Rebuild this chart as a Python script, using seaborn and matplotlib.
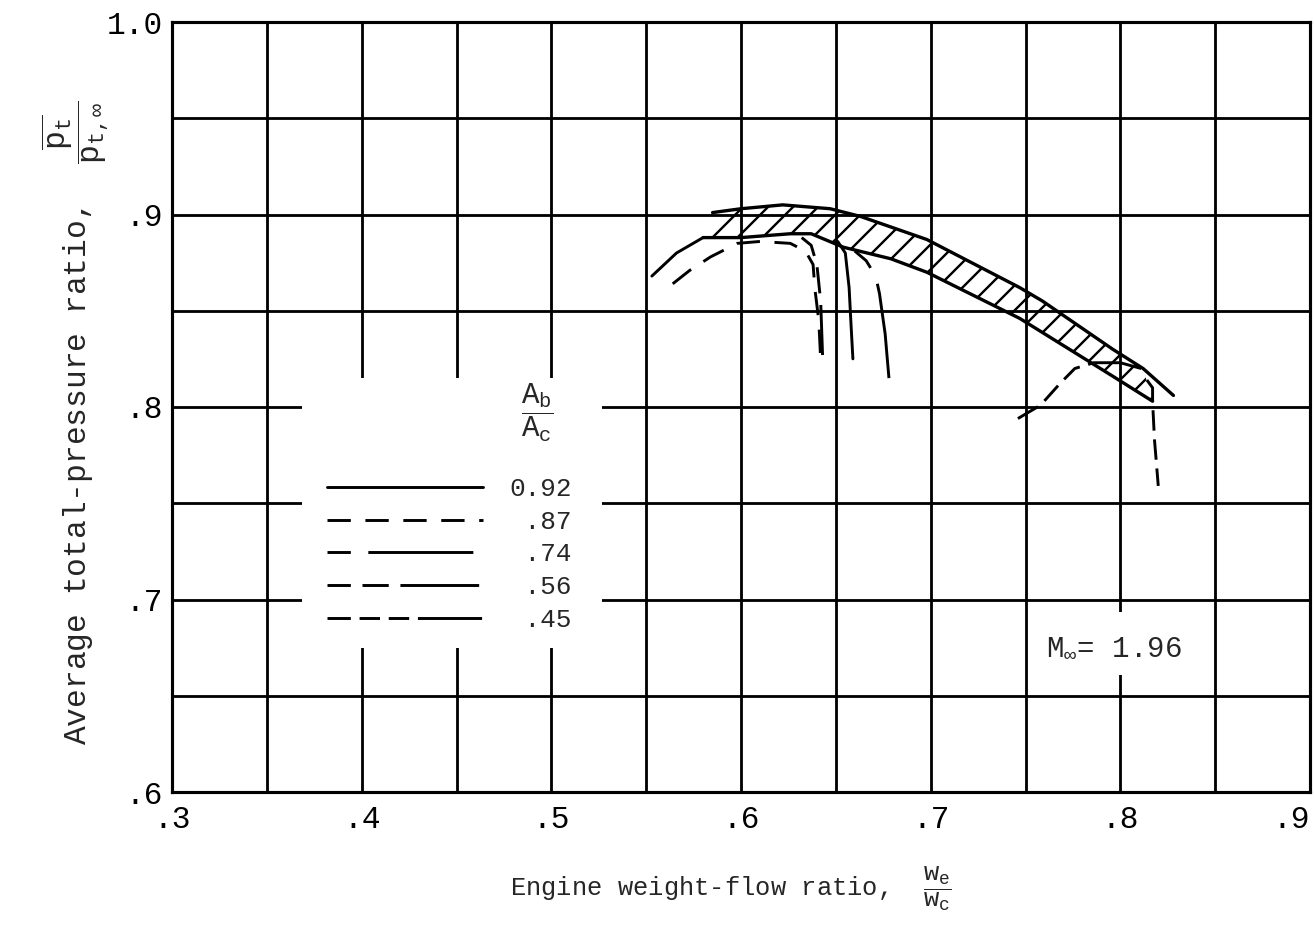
import numpy as np
import pandas as pd
import seaborn as sns
from matplotlib import pyplot as plt
from matplotlib.lines import Line2D
from matplotlib.patches import Rectangle

# Werte (Engine weight-flow ratio / total-pressure ratio)
band_top_x = [0.585, 0.600, 0.622, 0.647, 0.663, 0.698, 0.747, 0.759, 0.796, 0.812, 0.828]
band_top_y = [0.901, 0.903, 0.905, 0.903, 0.899, 0.887, 0.862, 0.855, 0.830, 0.820, 0.806]
band_bot_x = [0.580, 0.600, 0.626, 0.637, 0.654, 0.679, 0.698, 0.747, 0.796, 0.817]
band_bot_y = [0.888, 0.888, 0.890, 0.890, 0.883, 0.877, 0.870, 0.846, 0.816, 0.803]

ratio_labels = ['0.92', '.87', '.74', '.56', '.45']

# 0.92 - durchgezogen
r092_a_x = [0.553, 0.566, 0.573, 0.580]
r092_a_y = [0.868, 0.880, 0.884, 0.888]
r092_b_x = [0.651, 0.655, 0.657, 0.658, 0.659]
r092_b_y = [0.886, 0.880, 0.862, 0.843, 0.825]
# .87 - gestrichelt
r087_x = [0.564, 0.573, 0.584, 0.598, 0.610, 0.626, 0.634, 0.638, 0.639, 0.641, 0.642]
r087_y = [0.864, 0.871, 0.878, 0.885, 0.886, 0.885, 0.881, 0.874, 0.861, 0.845, 0.825]
# .74
r074_x = [0.660, 0.666, 0.671, 0.673, 0.676, 0.678]
r074_y = [0.881, 0.876, 0.868, 0.859, 0.838, 0.815]
# .56
r056_x = [0.632, 0.637, 0.640, 0.642, 0.643]
r056_y = [0.888, 0.884, 0.874, 0.855, 0.827]
# .45
r045_a_x = [0.746, 0.758, 0.768, 0.776, 0.786, 0.800, 0.811]
r045_a_y = [0.794, 0.801, 0.812, 0.820, 0.823, 0.823, 0.820]
r045_b_x = [0.814, 0.817, 0.817, 0.818, 0.820]
r045_b_y = [0.814, 0.810, 0.803, 0.783, 0.759]

x_ticks = [0.3, 0.4, 0.5, 0.6, 0.7, 0.8, 0.9]
x_ticklabels = ['.3', '.4', '.5', '.6', '.7', '.8', '.9']
y_ticks = [0.6, 0.7, 0.8, 0.9, 1.0]
y_ticklabels = ['.6', '.7', '.8', '.9', '1.0']

segments = [
    ('0.92', r092_a_x, r092_a_y), ('0.92', r092_b_x, r092_b_y),
    ('.87', r087_x, r087_y),
    ('.74', r074_x, r074_y),
    ('.56', r056_x, r056_y),
    ('.45', r045_a_x, r045_a_y), ('.45', r045_b_x, r045_b_y),
]
rows = []
for i, (lab, xs, ys) in enumerate(segments):
    for xv, yv in zip(xs, ys):
        rows.append({'x': xv, 'y': yv, 'ratio': lab, 'seg': i})
df = pd.DataFrame(rows)

dash_map = {'0.92': '', '.87': (8, 5), '.74': (8, 6, 36, 6),
            '.56': (8, 4, 9, 4, 27, 4), '.45': (8, 3, 7, 3, 7, 3, 22, 3)}

sns.set_theme(style='white')
plt.rcParams['font.family'] = ['Liberation Mono', 'DejaVu Sans']
plt.rcParams['mathtext.fontset'] = 'custom'
plt.rcParams['mathtext.rm'] = 'Liberation Mono'
plt.rcParams['mathtext.it'] = 'Liberation Mono'
plt.rcParams['mathtext.bf'] = 'Liberation Mono:bold'
plt.rcParams['hatch.linewidth'] = 2.3
plt.rcParams['axes.axisbelow'] = True

DPI = 75
fig = plt.figure(figsize=(1314 / DPI, 925 / DPI), dpi=DPI)
ax = fig.add_axes([172 / 1314, 1 - 792 / 925, 1138 / 1314, 770 / 925])

ax.set_xlim(0.3, 0.9)
ax.set_ylim(0.6, 1.0)
ax.set_xticks(x_ticks)
ax.set_xticklabels(x_ticklabels)
ax.set_yticks(y_ticks)
ax.set_yticklabels(y_ticklabels)
ax.set_xticks(np.arange(0.35, 0.9, 0.1), minor=True)
ax.set_yticks(np.arange(0.65, 1.0, 0.1), minor=True)
ax.grid(True, which='both', color='black', linewidth=2.7)
ax.tick_params(which='both', length=0, labelsize=30, colors='black')
ax.tick_params(axis='y', pad=9)
ax.tick_params(axis='x', pad=12)
ax.get_xticklabels()[-1].set_horizontalalignment('right')
for sp in ax.spines.values():
    sp.set_color('black')
    sp.set_linewidth(3)

# weisse Flaechen fuer Legende und Machzahl
ax.add_patch(Rectangle((0.3685, 0.675), 0.158, 0.140, facecolor='white', edgecolor='none', zorder=1))
ax.add_patch(Rectangle((0.752, 0.661), 0.092, 0.0325, facecolor='white', edgecolor='none', zorder=1))

# schraffiertes Band
poly_x = band_top_x[:-1] + band_bot_x[::-1]
poly_y = band_top_y[:-1] + band_bot_y[::-1]
ax.fill(poly_x, poly_y, facecolor='none', edgecolor='black', hatch='/', linewidth=0, zorder=2)
sns.lineplot(x=band_top_x, y=band_top_y, sort=False, estimator=None, color='black', linewidth=3.2, ax=ax)
sns.lineplot(x=band_bot_x, y=band_bot_y, sort=False, estimator=None, color='black', linewidth=3.2, ax=ax)

sns.lineplot(data=df, x='x', y='y', units='seg', style='ratio', style_order=ratio_labels,
             dashes=dash_map, estimator=None, sort=False, color='black', linewidth=2.8,
             legend=False, ax=ax)
ax.set_xlabel('')
ax.set_ylabel('')

handles = [Line2D([], [], color='black', linewidth=2.8, dashes=dash_map[r]) for r in ratio_labels]
ax.legend(handles, [f'{r:>4}' for r in ratio_labels], loc='center', bbox_to_anchor=(0.2438, 0.3085),
          frameon=False, fontsize=25, handlelength=6.0, handletextpad=1.0, labelspacing=0.33,
          borderpad=0, borderaxespad=0)
ax.text(0.3207, 0.4922, r'$\dfrac{A_b}{A_c}$', transform=ax.transAxes, ha='center', va='center', fontsize=28)
ax.text(0.7965, 0.675, r'M$_{\infty}$= 1.96', ha='center', va='center', fontsize=28)

fig.text(510 / 1314, 1 - 896 / 925, r'Engine weight-flow ratio,  $\dfrac{w_e}{w_c}$',
         ha='left', va='baseline', fontsize=24.5)
fig.text(75 / 1314, 1 - 745 / 925, r'Average total-pressure ratio,  $\dfrac{\overline{p_t}}{p_{t,\infty}}$',
         rotation=90, ha='center', va='bottom', fontsize=30)

fig.savefig('out.png', dpi=DPI, facecolor='white')
